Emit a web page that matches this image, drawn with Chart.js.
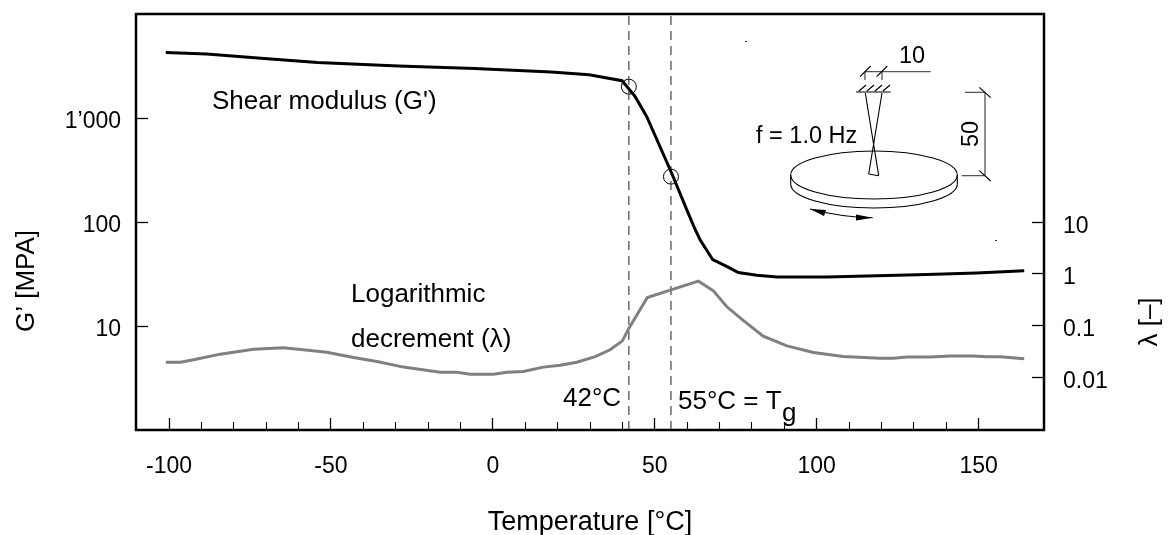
<!DOCTYPE html>
<html>
<head>
<meta charset="utf-8">
<title>Shear modulus and logarithmic decrement</title>
<script src="https://cdn.jsdelivr.net/npm/chart.js@4/dist/chart.umd.min.js"></script>
<style>
    html, body { margin: 0; padding: 0; background: #fff; }
    canvas { display: block; }
</style>
</head>
<body>
<canvas id="main-chart" width="1168" height="535"></canvas>
<script>
// --- DATA ---
const modulusTemps = [-101, -88.4, -70.6, -54.1, -29.2, -5.6, 18, 29.7, 39.9, 43.9, 47.5, 55.2, 59.9, 62.5, 64, 67.9, 72.2, 75.8, 81.5, 87.7, 103.1, 118.6, 134, 149.4, 164.1];
const modulusValues = [4275, 4125, 3743, 3425, 3162, 2998, 2768, 2608, 2284, 1614, 1036, 296, 131, 84.3, 67.6, 43.4, 37.4, 32.7, 30.7, 29.6, 29.6, 30.5, 31.3, 32.3, 34];

const decrementTemps = [-101, -96.5, -92.4, -84.2, -73.9, -64.7, -58.5, -51.3, -43, -35.8, -27.6, -16.3, -11.1, -7, 0.2, 4.3, 9.4, 15.6, 20.8, 25.9, 31.6, 36.2, 40, 41.9, 47.7, 55, 63.5, 68.1, 72.2, 77.4, 83.5, 90.8, 99, 108.2, 119.6, 123.7, 127.8, 135, 141.2, 148.4, 152.5, 156.6, 164.1];
const decrementValues = [0.0198, 0.0198, 0.022, 0.0283, 0.0353, 0.0374, 0.0343, 0.0309, 0.0243, 0.0204, 0.0159, 0.0127, 0.0127, 0.0116, 0.0116, 0.0127, 0.0131, 0.0159, 0.0172, 0.0198, 0.0254, 0.0343, 0.0511, 0.0871, 0.35, 0.493, 0.726, 0.472, 0.235, 0.126, 0.063, 0.0409, 0.0304, 0.0254, 0.0237, 0.0237, 0.0248, 0.0248, 0.0262, 0.0262, 0.0251, 0.0251, 0.023];

const markerTemps = [42, 55];
const markerValues = [2000, 273];

const xMajorTicks = [-100, -50, 0, 50, 100, 150];
const xMinorTicks = [-90, -80, -70, -60, -40, -30, -20, -10, 10, 20, 30, 40, 60, 70, 80, 90, 110, 120, 130, 140];
const leftTicks = [10, 100, 1000];
const leftTickLabels = ['10', '100', '1\u2019000'];
const rightTicks = [0.01, 0.1, 1, 10];
const rightTickLabels = ['0.01', '0.1', '1', '10'];

const FONT = '"Liberation Sans", Arial, sans-serif';
const TEXT_SIZE = 26;
const TICK_SIZE = 23;
const SKETCH_SIZE = 23.5;

function setTicks(values) {
    return scale => { scale.ticks = values.map(v => ({ value: v })); };
}

// keeps the plot box where the picture has it, whatever the labels measure
function fixSize(prop, size) {
    return scale => {
        scale[prop] = size;
        scale.paddingTop = scale.paddingBottom = scale.paddingLeft = scale.paddingRight = 0;
    };
}

function pointsOf(xs, ys) {
    return xs.map((x, i) => ({ x: x, y: ys[i] }));
}

// --- Text labels, frame and the small test sketch ---
function label(ctx, text, x, y, size, angle) {
    ctx.save();
    ctx.font = (size || TEXT_SIZE) + 'px ' + FONT;
    ctx.fillStyle = '#000';
    ctx.translate(x, y);
    if (angle) {
        ctx.rotate(angle);
        ctx.textAlign = 'center';
        ctx.textBaseline = 'middle';
    }
    ctx.fillText(text, 0, 0);
    ctx.restore();
}

function segs(ctx, list, width, color) {
    ctx.strokeStyle = color || '#000';
    ctx.lineWidth = width || 1;
    ctx.beginPath();
    list.forEach(s => { ctx.moveTo(s[0], s[1]); ctx.lineTo(s[2], s[3]); });
    ctx.stroke();
}

function drawSketch(ctx) {
    // dimension lines
    segs(ctx, [[865, 71.7, 930.7, 71.7], [865, 71.7, 865, 80], [882, 71.7, 882, 80],
        [965, 92.3, 985, 92.3], [961.7, 175.7, 985, 175.7], [985, 92.3, 985, 175.7]], 1.3, '#555');
    segs(ctx, [[860, 76.7, 870.7, 66], [876.7, 76.7, 887.3, 66],
        [979.3, 87.3, 990.7, 97.7], [979.3, 170.7, 990.7, 181]], 1.1);

    // clamp with hatching
    segs(ctx, [[856, 92, 890.7, 92], [859, 91, 866, 85], [867, 91, 874, 85], [875, 91, 882, 85], [883, 91, 890, 85]], 1.1);

    // disc
    ctx.fillStyle = '#fff';
    ctx.strokeStyle = '#000';
    ctx.lineWidth = 1.1;
    ctx.beginPath();
    ctx.ellipse(874, 184, 83.3, 24, 0, 0, Math.PI);
    ctx.stroke();
    ctx.beginPath();
    ctx.ellipse(874, 175, 83.3, 24, 0, 0, Math.PI * 2);
    ctx.stroke();
    segs(ctx, [[790.7, 175, 790.7, 184], [957.3, 175, 957.3, 184]], 1.1);

    // specimen
    segs(ctx, [[865.3, 93, 878.7, 175.7], [882, 93, 868.7, 174], [868.7, 174, 878.7, 175.7]], 1.1);

    // rotation arrow
    ctx.lineWidth = 1.1;
    ctx.beginPath();
    ctx.moveTo(810, 209);
    ctx.quadraticCurveTo(840, 217, 872.7, 217.7);
    ctx.stroke();
    ctx.fillStyle = '#000';
    ctx.beginPath();
    ctx.moveTo(810, 209);
    ctx.lineTo(826, 210);
    ctx.lineTo(824, 216);
    ctx.closePath();
    ctx.fill();
    ctx.beginPath();
    ctx.moveTo(872.7, 217.7);
    ctx.lineTo(856, 214.5);
    ctx.lineTo(856, 220.5);
    ctx.closePath();
    ctx.fill();

    // stray specks in the scan
    ctx.fillStyle = '#333';
    ctx.fillRect(745, 41, 2, 1);
    ctx.fillRect(995, 240, 2, 1);

    label(ctx, '10', 899, 63, SKETCH_SIZE);
    label(ctx, 'f = 1.0 Hz', 756, 143, SKETCH_SIZE);
    label(ctx, '50', 972, 134, SKETCH_SIZE, -Math.PI / 2);
}

const annotationsPlugin = {
    id: 'annotations',
    afterDraw(chart) {
        const ctx = chart.ctx;
        const a = chart.chartArea;

        ctx.save();
        ctx.strokeStyle = '#000';
        ctx.lineWidth = 2.5;
        ctx.strokeRect(a.left, a.top, a.right - a.left, a.bottom - a.top);

        drawSketch(ctx);

        label(ctx, "Shear modulus (G')", 212, 109);
        label(ctx, 'Logarithmic', 351, 302);
        label(ctx, 'decrement (\u03bb)', 351, 347);
        label(ctx, '42\u00b0C', 563, 406);
        label(ctx, '55\u00b0C = T', 678, 409);
        label(ctx, 'g', 782, 421);

        label(ctx, 'G\u2019 [MPA]', 27, 281, TEXT_SIZE, -Math.PI / 2);
        label(ctx, '\u03bb [\u2013]', 1150, 322, TEXT_SIZE, -Math.PI / 2);
        ctx.restore();
    }
};

// --- CHART ---
const tickFont = { family: FONT, size: TICK_SIZE };
const titleFont = { family: FONT, size: 27 };

new Chart(document.getElementById('main-chart').getContext('2d'), {
    type: 'line',
    data: {
        datasets: [
            {
                label: "Shear modulus (G')",
                data: pointsOf(modulusTemps, modulusValues),
                borderColor: '#000',
                borderWidth: 3,
                pointRadius: 0,
                tension: 0,
                yAxisID: 'y'
            },
            {
                label: 'Logarithmic decrement',
                data: pointsOf(decrementTemps, decrementValues),
                borderColor: '#808080',
                borderWidth: 3,
                pointRadius: 0,
                tension: 0,
                yAxisID: 'y2'
            },
            {
                label: '42 C',
                data: [{ x: markerTemps[0], y: 1 }, { x: markerTemps[0], y: 10000 }],
                borderColor: '#444',
                borderWidth: 1.2,
                borderDash: [9, 6],
                pointRadius: 0,
                yAxisID: 'y'
            },
            {
                label: '55 C',
                data: [{ x: markerTemps[1], y: 1 }, { x: markerTemps[1], y: 10000 }],
                borderColor: '#444',
                borderWidth: 1.2,
                borderDash: [9, 6],
                pointRadius: 0,
                yAxisID: 'y'
            },
            {
                label: 'Markers',
                data: pointsOf(markerTemps, markerValues),
                showLine: false,
                pointStyle: 'circle',
                pointRadius: 7.5,
                pointBorderWidth: 1,
                pointBorderColor: '#000',
                pointBackgroundColor: 'rgba(0,0,0,0)',
                yAxisID: 'y'
            }
        ]
    },
    options: {
        responsive: false,
        animation: false,
        layout: { padding: { top: 14 } },
        plugins: { legend: { display: false }, title: { display: false }, tooltip: { enabled: false } },
        scales: {
            x: {
                type: 'linear',
                position: 'bottom',
                min: -110.2,
                max: 170.2,
                afterBuildTicks: setTicks(xMajorTicks),
                afterFit: fixSize('height', 105),
                grid: { drawOnChartArea: false, tickLength: -12, tickWidth: 1.3, tickColor: '#000' },
                border: { display: false },
                ticks: { color: '#000', font: tickFont, padding: 35, maxRotation: 0, autoSkip: false, callback: v => String(v) },
                title: { display: true, text: 'Temperature [\u00b0C]', color: '#000', font: titleFont, padding: { top: 0, bottom: -4 } }
            },
            xMinor: {
                type: 'linear',
                position: { y: 1 },
                min: -110.2,
                max: 170.2,
                afterBuildTicks: setTicks(xMinorTicks),
                afterFit: fixSize('height', 0),
                grid: { drawOnChartArea: false, tickLength: -8, tickWidth: 1.1, tickColor: '#000' },
                border: { display: false },
                ticks: { display: false, autoSkip: false }
            },
            y: {
                type: 'logarithmic',
                position: 'left',
                min: 1,
                max: 10000,
                afterBuildTicks: setTicks(leftTicks),
                afterFit: fixSize('width', 136),
                grid: { drawOnChartArea: false, tickLength: -12, tickWidth: 1.3, tickColor: '#000' },
                border: { display: false },
                ticks: {
                    color: '#000', font: tickFont, padding: 27, labelOffset: 4, autoSkip: false,
                    callback: v => leftTickLabels[leftTicks.indexOf(v)]
                }
            },
            y2: {
                type: 'logarithmic',
                position: 'right',
                min: 0.00097,
                max: 105000,
                afterBuildTicks: setTicks(rightTicks),
                afterFit: fixSize('width', 124),
                grid: { drawOnChartArea: false, tickLength: -12, tickWidth: 1.3, tickColor: '#000' },
                border: { display: false },
                ticks: {
                    color: '#000', font: tickFont, padding: 31, labelOffset: 4, autoSkip: false,
                    callback: v => rightTickLabels[rightTicks.indexOf(v)]
                }
            }
        }
    },
    plugins: [annotationsPlugin]
});
</script>
</body>
</html>
